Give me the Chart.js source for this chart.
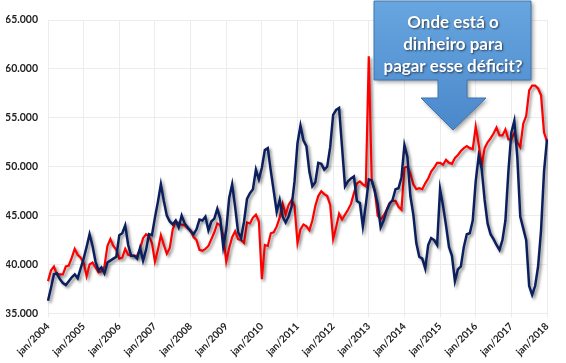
<!DOCTYPE html>
<html lang="pt-BR">
<head>
<meta charset="UTF-8">
<title>Onde está o dinheiro</title>
<script src="https://cdn.jsdelivr.net/npm/chart.js"></script>
<style>
    body { margin: 0; background: #fff; }
    #wrap { width: 566px; height: 363px; }
</style>
</head>
<body>
<div id="wrap"><canvas id="chart" width="566" height="363"></canvas></div>
<script>
    const meses = ['jan', 'fev', 'mar', 'abr', 'mai', 'jun', 'jul', 'ago', 'set', 'out', 'nov', 'dez'];
    const anos = [2004, 2005, 2006, 2007, 2008, 2009, 2010, 2011, 2012, 2013, 2014, 2015, 2016, 2017, 2018];

    // serie azul (mensal, jan/2004 a jan/2018)
    const azul = [
        36.3, 37.6, 39.0, 39.1, 38.5, 38.1, 37.9, 38.3, 38.7, 39.0, 38.6, 39.6,
        40.6, 41.8, 43.1, 41.9, 40.3, 39.4, 39.7, 39.1, 40.2, 40.4, 40.6, 40.8,
        43.0, 43.2, 44.0, 42.0, 40.9, 40.9, 40.6, 41.7, 40.4, 41.5, 43.1, 43.0,
        44.8, 46.4, 48.2, 46.5, 45.0, 44.4, 44.1, 44.5, 43.8, 45.0, 44.2, 43.8,
        43.4, 43.1, 43.6, 44.6, 44.5, 44.9, 43.5, 44.4, 44.7, 45.7, 44.7, 41.8,
        43.5, 46.8, 48.2, 45.9, 43.3, 42.7, 44.4, 46.7, 47.3, 47.7, 49.7, 48.7,
        49.9, 51.7, 51.9, 49.6, 47.5, 45.4, 46.6, 44.9, 44.3, 44.9, 45.9, 48.5,
        52.4, 54.2, 52.7, 52.1, 49.5, 48.0, 48.4, 50.4, 50.3, 49.7, 50.0, 52.0,
        55.3, 55.8, 56.0, 52.0, 48.0, 48.5, 48.8, 49.0, 46.5, 46.3, 43.9, 46.1,
        48.7, 48.6, 47.5, 46.2, 43.8, 44.5, 45.5, 46.2, 46.6, 47.7, 47.8, 48.9,
        52.2, 51.0, 47.0, 45.1, 42.2, 40.8, 40.6, 39.6, 42.0, 42.7, 42.5, 42.0,
        47.7, 46.0, 44.0, 41.8, 40.9, 38.3, 39.5, 39.8, 41.8, 43.1, 43.2, 44.5,
        48.5, 51.1, 49.8, 46.6, 44.2, 43.1, 42.6, 42.0, 41.5, 42.5, 44.5, 49.5,
        53.5, 54.7, 51.0, 44.9, 43.7, 42.5, 37.8, 36.9, 37.8, 39.8, 43.5, 49.5,
        52.8
    ];

    // serie vermelha
    const vermelho = [
        38.3, 39.4, 39.8, 39.0, 39.0, 39.0, 39.8, 39.9, 40.7, 41.6, 41.0, 40.7,
        40.2, 38.8, 40.0, 40.2, 39.7, 39.2, 39.3, 39.8, 41.9, 42.6, 41.9, 41.5,
        40.6, 40.7, 41.6, 41.0, 40.9, 40.9, 40.9, 41.6, 42.7, 43.1, 42.9, 42.2,
        40.3, 41.5, 43.0, 42.0, 41.1, 41.7, 43.6, 44.4, 44.2, 44.1, 44.0, 43.7,
        43.5, 42.8, 42.5, 41.5, 41.4, 41.6, 41.9, 42.6, 43.3, 44.2, 44.0, 43.0,
        40.3, 41.7, 42.8, 43.4, 42.6, 42.5, 42.2, 44.3, 44.2, 44.8, 45.1, 44.4,
        38.5, 42.0, 41.9, 43.2, 43.3, 43.9, 44.8, 46.2, 45.1, 46.1, 46.6, 46.0,
        42.2, 43.6, 44.1, 43.9, 43.5, 44.5, 46.0, 47.0, 47.5, 47.2, 47.0, 46.1,
        42.6, 43.8, 45.2, 44.6, 45.1, 45.6, 46.2, 47.3, 48.3, 48.5, 48.2, 48.0,
        61.3, 48.5, 47.6, 45.0, 44.6, 45.0, 45.6, 46.3, 46.5, 46.5, 45.9, 45.6,
        49.9, 50.0, 49.3, 48.2, 47.7, 47.8, 47.7, 48.3, 48.8, 49.5, 49.9, 50.4,
        50.4, 50.2, 50.7, 50.4, 50.3, 50.9, 51.2, 51.6, 51.9, 52.1, 51.9, 51.8,
        54.1, 52.3, 50.1, 51.9, 52.5, 52.9, 53.4, 54.0, 53.2, 53.2, 53.8, 52.8,
        52.8, 53.5, 52.5, 52.0, 54.4, 55.2, 57.8, 58.3, 58.3, 58.0, 57.3, 53.5,
        52.6
    ];

    const yTicks = [35000, 40000, 45000, 50000, 55000, 60000, 65000];
    const calloutLines = ['Onde está o', 'dinheiro para', 'pagar esse déficit?'];

    const labels = [];
    anos.forEach(ano => {
        meses.forEach(m => {
            if (labels.length < azul.length) labels.push(m + '/' + ano);
        });
    });

    const sombra = {
        id: 'sombra',
        beforeDatasetDraw(chart) {
            const ctx = chart.ctx;
            ctx.save();
            ctx.shadowColor = 'rgba(0, 0, 0, 0.45)';
            ctx.shadowOffsetX = 2;
            ctx.shadowOffsetY = 2;
            ctx.shadowBlur = 3;
        },
        afterDatasetDraw(chart) {
            chart.ctx.restore();
        }
    };

    // caixa com seta
    const balao = {
        id: 'balao',
        afterDraw(chart) {
            const ctx = chart.ctx;
            ctx.save();
            ctx.beginPath();
            ctx.moveTo(374, 1);
            ctx.lineTo(531, 1);
            ctx.lineTo(531, 80);
            ctx.lineTo(467, 80);
            ctx.lineTo(467, 98);
            ctx.lineTo(486, 98);
            ctx.lineTo(453, 130);
            ctx.lineTo(421, 98);
            ctx.lineTo(438, 98);
            ctx.lineTo(438, 80);
            ctx.lineTo(374, 80);
            ctx.closePath();
            const g = ctx.createLinearGradient(0, 0, 0, 130);
            g.addColorStop(0, '#68a6e0');
            g.addColorStop(1, '#4a88cb');
            ctx.shadowColor = 'rgba(0, 0, 0, 0.4)';
            ctx.shadowOffsetX = 2;
            ctx.shadowOffsetY = 2;
            ctx.shadowBlur = 4;
            ctx.fillStyle = g;
            ctx.fill();
            ctx.shadowColor = 'transparent';
            ctx.strokeStyle = '#3f76b0';
            ctx.lineWidth = 1;
            ctx.stroke();

            ctx.font = 'bold 17px Lato';
            ctx.textAlign = 'center';
            ctx.textBaseline = 'middle';
            ctx.fillStyle = '#fff';
            ctx.shadowColor = 'rgba(0, 0, 0, 0.6)';
            ctx.shadowOffsetX = 1;
            ctx.shadowOffsetY = 1;
            ctx.shadowBlur = 2;
            calloutLines.forEach((t, i) => ctx.fillText(t, 453, 23 + i * 22));
            ctx.restore();
        }
    };

    new Chart(document.getElementById('chart'), {
        type: 'line',
        data: {
            labels: labels,
            datasets: [
                { data: azul.map(v => v * 1000), borderColor: '#0b1f5e', borderWidth: 2.5 },
                { data: vermelho.map(v => v * 1000), borderColor: '#ff0000', borderWidth: 2.2 }
            ]
        },
        options: {
            responsive: false,
            animation: false,
            layout: { padding: { top: 20, right: 19, left: 6, bottom: 2 } },
            elements: { point: { radius: 0 }, line: { tension: 0 } },
            plugins: { legend: { display: false }, tooltip: { enabled: false } },
            scales: {
                x: {
                    grid: { color: '#ececec', tickLength: 4 },
                    border: { display: false },
                    afterFit: s => { s.paddingLeft = 0; },
                    ticks: {
                        autoSkip: false,
                        maxRotation: 45,
                        minRotation: 45,
                        color: '#222',
                        font: { family: 'Lato', weight: 'bold', size: 10 },
                        callback: function (v, i) {
                            const l = this.getLabelForValue(v);
                            return l.startsWith('jan/') ? l : null;
                        }
                    }
                },
                y: {
                    min: 35000,
                    max: 65000,
                    afterBuildTicks: s => { s.ticks = yTicks.map(v => ({ value: v })); },
                    afterFit: s => { s.width = 42; },
                    grid: { color: '#ececec', drawTicks: false },
                    border: { display: false },
                    ticks: {
                        padding: 10,
                        color: '#222',
                        font: { family: 'Lato', weight: 'bold', size: 10.5 },
                        callback: v => v.toLocaleString('pt-BR')
                    }
                }
            }
        },
        plugins: [sombra, balao]
    });
</script>
</body>
</html>
